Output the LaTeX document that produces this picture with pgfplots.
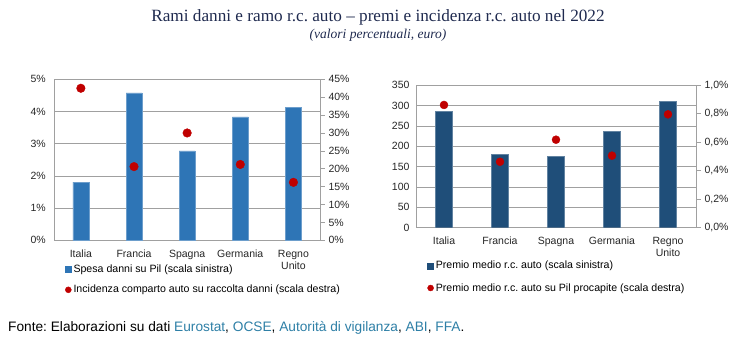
\documentclass[border=0pt]{standalone}
\usepackage{pgfplots}
\pgfplotsset{compat=1.18}
\usepackage{fontspec}
\setmainfont{Liberation Sans}
\newfontfamily\titlefont{Liberation Serif}
\definecolor{barA}{HTML}{2E75B6}
\definecolor{barB}{HTML}{1F4E79}
\definecolor{dotred}{HTML}{C00000}
\definecolor{titleblue}{HTML}{1F2A4F}
\definecolor{linkc}{HTML}{2E7FA6}
\definecolor{gridc}{HTML}{A0A0A0}
\frenchspacing
\pgfplotsset{
  common/.style={
    scale only axis, xmin=-0.5, xmax=4.5, ymin=0,
    /pgf/number format/assume math mode=true,
    tick label style={font=\fontsize{10.5}{12}\selectfont, text=black!85},
    axis line style={gridc, line width=0.7pt},
    major tick length=0pt,
    tick style={gridc, line width=0.7pt},
  },
}
\begin{document}
\begin{tikzpicture}
\path (0,0) rectangle (736pt,-354pt);
\node[font=\titlefont\fontsize{17.2}{19}\selectfont, text=titleblue] at (378pt,-17pt) {Rami danni e ramo r.c. auto – premi e incidenza r.c. auto nel 2022};
\node[font=\titlefont\itshape\fontsize{13.5}{15}\selectfont, text=titleblue] at (378pt,-35pt) {(valori percentuali, euro)};
\node[anchor=west, font=\fontsize{13.7}{15}\selectfont, inner sep=0pt] at (8pt,-328pt) {Fonte: Elaborazioni su dati \textcolor{linkc}{Eurostat}, \textcolor{linkc}{OCSE}, \textcolor{linkc}{Autorità di vigilanza}, \textcolor{linkc}{ABI}, \textcolor{linkc}{FFA}.};

% ---------- Left chart ----------
\begin{axis}[common,
  at={(54.3pt,-240.3pt)}, anchor=south west,
  width=265.7pt, height=161pt, ymax=5,
  axis y line*=left, axis x line*=bottom,
  xtick={0,1,2,3,4}, xticklabels={Italia,Francia,Spagna,Germania,{Regno\\Unito}},
  xticklabel style={align=center, yshift=-6pt},
  yticklabel style={xshift=-5pt},
  ytick={0,1,2,3,4,5},
  yticklabel={\pgfmathprintnumber{\tick}\%},
  ymajorgrids, grid style={gridc, line width=0.7pt},
  legend style={at={(axis description cs:0.04,-0.14)}, anchor=north west, draw=none, fill=none,
    font=\fontsize{10.6}{12}\selectfont, row sep=7pt, inner sep=0pt},
  legend cell align=left,
]
\addplot[ybar, bar width=16pt, fill=barA, draw=barA!70!white, line width=0.4pt,
  legend image code/.code={\fill[barA] (0pt,-3pt) rectangle (6pt,3pt);}]
  coordinates {(0,1.81) (1,4.58) (2,2.78) (3,3.83) (4,4.12)};
\addlegendentry{Spesa danni su Pil (scala sinistra)}
\addlegendimage{legend image code/.code={\fill[dotred] (3pt,0pt) circle (3pt);}}
\addlegendentry{Incidenza comparto auto su raccolta danni (scala destra)}
\end{axis}
\begin{axis}[common,
  at={(54.3pt,-240.3pt)}, anchor=south west,
  width=265.7pt, height=161pt, ymax=45,
  axis y line*=right, axis x line=none,
  ytick={0,5,...,45},
  yticklabel={\pgfmathprintnumber{\tick}\%},
  major tick length=5pt, tick align=outside,
]
\addplot[only marks, mark=*, mark size=4.3pt, color=dotred]
  coordinates {(0,42.5) (1,20.6) (2,30.0) (3,21.2) (4,16.2)};
\end{axis}

% ---------- Right chart ----------
\begin{axis}[common,
  at={(416pt,-227.7pt)}, anchor=south west,
  width=280pt, height=142.4pt, ymax=350,
  axis y line*=left, axis x line*=bottom,
  xtick={0,1,2,3,4}, xticklabels={Italia,Francia,Spagna,Germania,{Regno\\Unito}},
  xticklabel style={align=center, yshift=-6pt},
  yticklabel style={xshift=-3pt},
  ytick={0,50,...,350},
  ymajorgrids, grid style={gridc, line width=0.7pt},
  legend style={at={(axis description cs:0.04,-0.22)}, anchor=north west, draw=none, fill=none,
    font=\fontsize{10.6}{12}\selectfont, row sep=9pt, inner sep=0pt},
  legend cell align=left,
]
\addplot[ybar, bar width=17pt, fill=barB, draw=barB!70!white, line width=0.4pt,
  legend image code/.code={\fill[barB] (0pt,-3pt) rectangle (6pt,3pt);}]
  coordinates {(0,286) (1,180) (2,175.5) (3,236) (4,311)};
\addlegendentry{Premio medio r.c. auto (scala sinistra)}
\addlegendimage{legend image code/.code={\fill[dotred] (3pt,0pt) circle (3pt);}}
\addlegendentry{Premio medio r.c. auto su Pil procapite (scala destra)}
\end{axis}
\begin{axis}[common,
  at={(416pt,-227.7pt)}, anchor=south west,
  width=280pt, height=142.4pt, ymax=1.0,
  axis y line*=right, axis x line=none,
  ytick={0,0.2,0.4,0.6,0.8,1.0},
  yticklabel style={/pgf/number format/.cd, fixed, fixed zerofill, precision=1, use comma},
  yticklabel={\pgfmathprintnumber{\tick}\%},
  major tick length=5pt, tick align=outside,
]
\addplot[only marks, mark=*, mark size=4pt, color=dotred]
  coordinates {(0,0.862) (1,0.463) (2,0.618) (3,0.506) (4,0.796)};
\end{axis}
\end{tikzpicture}
\end{document}
